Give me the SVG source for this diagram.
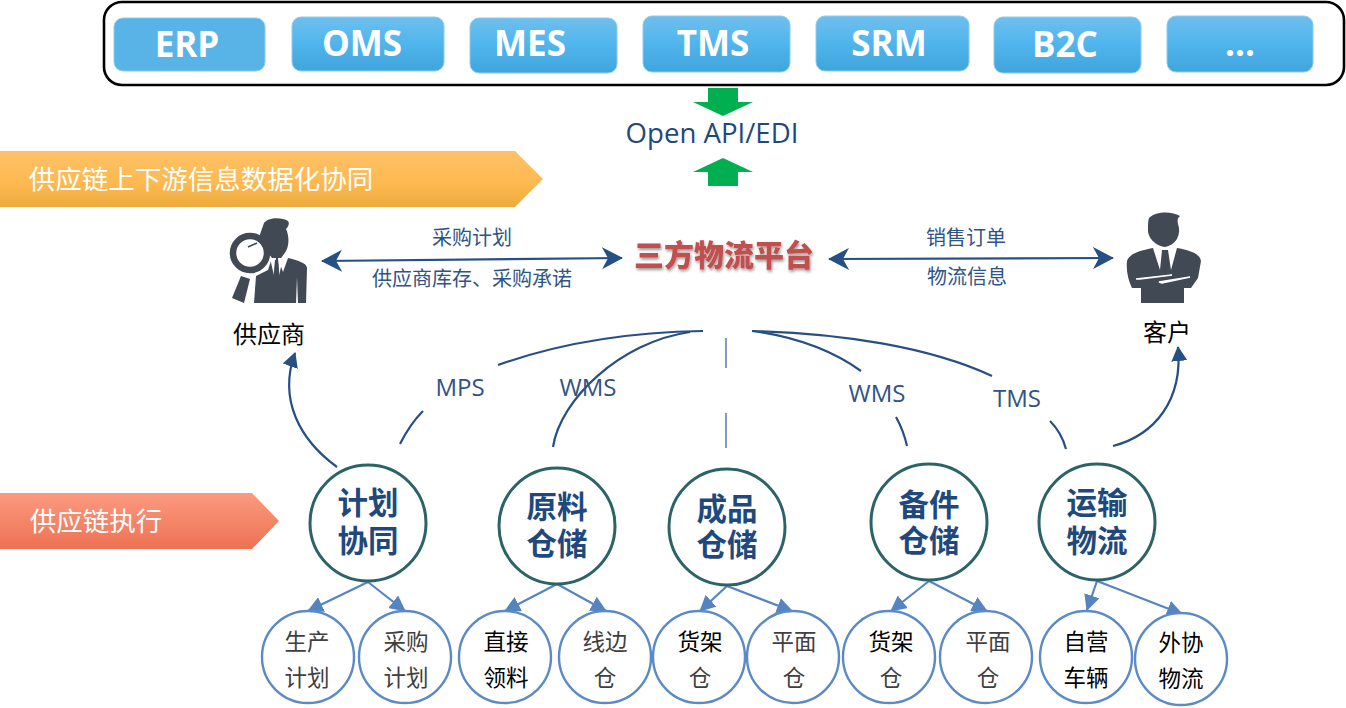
<svg xmlns="http://www.w3.org/2000/svg" width="1346" height="708" viewBox="0 0 1346 708">
<style>
text{font-family:"Noto Sans CJK SC","Noto Sans",sans-serif;text-anchor:middle}
.btn{fill:url(#blue);stroke:#8fcbee;stroke-width:1}
.bt{font-family:"Open Sans","Noto Sans",sans-serif;font-weight:700;font-size:35px;fill:#fff}
.lab{font-size:20px;fill:#2f5485}
.proto{font-family:"Open Sans","Noto Sans",sans-serif;font-size:24px;fill:#2f5485}
.who{font-size:24px;fill:#000}
.big{fill:#fff;stroke:#2b6368;stroke-width:3}
.bigt{font-size:30.5px;font-weight:700;fill:#1f497d}
.small{fill:#fff;stroke:#5b8ac6;stroke-width:2.4}
.st{font-size:22.5px;fill:#404040}
.k{fill:#000}
.c{fill:none;stroke:#264f83;stroke-width:2.2}
.d{fill:none;stroke:#5585c1;stroke-width:2.2}
.icon{fill:#414954}
</style>
<defs>
<linearGradient id="blue" x1="0" y1="0" x2="0" y2="1"><stop offset="0" stop-color="#6fbfec"/><stop offset=".45" stop-color="#52b6ee"/><stop offset="1" stop-color="#3fa5db"/></linearGradient>
<linearGradient id="yel" x1="0" y1="0" x2="0" y2="1"><stop offset="0" stop-color="#fdc168"/><stop offset=".6" stop-color="#fdb94f"/><stop offset="1" stop-color="#ecaa3c"/></linearGradient>
<linearGradient id="red" x1="0" y1="0" x2="0" y2="1"><stop offset="0" stop-color="#fb9a80"/><stop offset="1" stop-color="#ee7152"/></linearGradient>
<marker id="big" markerWidth="22" markerHeight="22" refX="20" refY="11" orient="auto-start-reverse" markerUnits="userSpaceOnUse"><path d="M0 0L21 11L0 22L6 11Z" fill="#264f83"/></marker>
<marker id="tri" markerWidth="16" markerHeight="16" refX="14" refY="8" orient="auto" markerUnits="userSpaceOnUse"><path d="M0 0L15 8L0 16Z" fill="#264f83"/></marker>
<marker id="lb" markerWidth="17" markerHeight="16" refX="15" refY="8" orient="auto" markerUnits="userSpaceOnUse"><path d="M0 0L16 8L0 16Z" fill="#5585c1"/></marker>
<filter id="sh" x="-20%" y="-40%" width="140%" height="180%"><feDropShadow dx="1" dy="2" stdDeviation="1.5" flood-color="#000" flood-opacity=".4"/></filter>
</defs>
<g id="systems">
<rect x="104" y="2" width="1240" height="83" rx="18" fill="#fff" stroke="#000" stroke-width="2.6"/>
<g id="erp"><rect class="btn" x="114" y="18" width="151" height="53" rx="9" style="fill:#58b4e6"/><text class="bt" x="187" y="57">ERP</text></g>
<g id="oms"><rect class="btn" x="292" y="17" width="152" height="54" rx="9"/><text class="bt" x="362" y="56">OMS</text></g>
<g id="mes"><rect class="btn" x="470" y="18" width="147" height="55" rx="9"/><text class="bt" x="530" y="56">MES</text></g>
<g id="tms"><rect class="btn" x="643" y="16" width="147" height="56" rx="9"/><text class="bt" x="713" y="56">TMS</text></g>
<g id="srm"><rect class="btn" x="816" y="16" width="153" height="55" rx="9"/><text class="bt" x="889" y="56">SRM</text></g>
<g id="b2c"><rect class="btn" x="994" y="17" width="147" height="56" rx="9"/><text class="bt" x="1065" y="57">B2C</text></g>
<g id="more"><rect class="btn" x="1167" y="16" width="146" height="56" rx="9"/><text class="bt" x="1240" y="56">...</text></g>
</g>
<g id="api">
<path d="M708 88H738V102H753L723 116L693 102H708Z" fill="#00b050"/>
<text class="proto" x="712" y="143" style="font-size:27.6px;fill:#1f497d">Open API/EDI</text>
<path d="M723 158L753 172H738V186H708V172H693Z" fill="#00b050"/>
</g>
<g id="banner-top"><path d="M0 151H515L543 179L515 207H0Z" fill="url(#yel)"/><text x="201" y="189" font-size="26.5" fill="#fff">供应链上下游信息数据化协同</text></g>
<g id="banner-exec"><path d="M0 493H252L279 521L252 549H0Z" fill="url(#red)"/><text x="96" y="531" font-size="26.5" fill="#fff">供应链执行</text></g>
<g id="supplier">
<path class="icon" d="M264 223C268 217 282 217 288 221C290 224 288 227 286 229C290 238 289 248 284 254L279 261L283 272L288 258C297 260 307 263 307 268L306 303H298L297 277L296 303H254L256 276L268 270L272 258L258 240Z"/>
<circle cx="250" cy="253" r="17" fill="#fff" stroke="#414954" stroke-width="6.5"/>
<path d="M248 247L257 243" stroke="#414954" stroke-width="1.5"/>
<path class="icon" d="M241 276L250 279L244 303L232 298Z"/>
<path d="M270 258L274 276L276 258ZM283 258L279 276L278 258Z" fill="#fff"/>
<path d="M273 281L275 260H278L280 281L277 287Z" fill="#414954"/>
<text class="who" x="269" y="343">供应商</text>
</g>
<g id="customer">
<path class="icon" d="M1149 218C1156 211 1172 211 1180 216C1176 219 1178 223 1179 228C1180 237 1175 245 1165 247C1156 246 1147 238 1148 228C1148 224 1148 221 1149 218Z"/>
<path class="icon" d="M1153 248L1160 270L1162 250H1168L1171 270L1177 248C1188 250 1200 253 1201 261L1198 278L1191 288H1184V303H1141V288H1132C1128 280 1126 270 1127 261C1130 252 1144 250 1153 248Z"/>
<path d="M1136 279L1172 275L1140 279ZM1159 282L1190 277L1162 283Z" fill="#fff" stroke="#fff" stroke-width="1.5"/>
<text class="who" x="1167" y="341">客户</text>
</g>
<g id="platform"><text x="724" y="266" font-size="30" font-weight="900" fill="#c0504d" filter="url(#sh)">三方物流平台</text></g>
<g id="connectors">
<path class="c" d="M322 261L622 258" marker-start="url(#big)" marker-end="url(#big)"/>
<path class="c" d="M829 259L1113 258" marker-start="url(#big)" marker-end="url(#big)"/>
<path class="c" d="M337 467C300 440 278 400 295 353" marker-end="url(#tri)"/>
<path class="c" d="M1113 446C1155 435 1183 400 1178 347" marker-end="url(#tri)"/>
<path class="c" d="M400 444C408 428 417 417 423 411M498 365C560 343 630 332 703 331"/>
<path class="c" d="M553 447C560 400 620 342 690 332"/>
<path class="c" d="M726 338V368M726 413V448" style="stroke:#5b7ea8;stroke-width:1.5"/>
<path class="c" d="M752 331C790 336 830 349 861 371M896 417C901 426 905 437 907 446"/>
<path class="c" d="M752 331C840 333 930 347 992 376M1050 421C1057 428 1063 438 1066 449"/>
<path class="d" d="M368 582L308 611" marker-end="url(#lb)"/>
<path class="d" d="M368 582L405 611" marker-end="url(#lb)"/>
<path class="d" d="M557 584L505 611" marker-end="url(#lb)"/>
<path class="d" d="M557 584L606 611" marker-end="url(#lb)"/>
<path class="d" d="M727 586L700 611" marker-end="url(#lb)"/>
<path class="d" d="M727 586L792 611" marker-end="url(#lb)"/>
<path class="d" d="M929 581L891 611" marker-end="url(#lb)"/>
<path class="d" d="M929 581L987 611" marker-end="url(#lb)"/>
<path class="d" d="M1097 581L1087 610" marker-end="url(#lb)"/>
<path class="d" d="M1097 581L1182 614" marker-end="url(#lb)"/>
</g>
<g id="link-labels">
<text class="lab" x="472" y="245">采购计划</text>
<text class="lab" x="472" y="286">供应商库存、采购承诺</text>
<text class="lab" x="966" y="245">销售订单</text>
<text class="lab" x="967" y="284">物流信息</text>
<text class="proto" x="460" y="396">MPS</text>
<text class="proto" x="588" y="396">WMS</text>
<text class="proto" x="877" y="402">WMS</text>
<text class="proto" x="1017" y="407">TMS</text>
</g>
<g id="n-plan"><circle class="big" cx="368" cy="523" r="58"/><text class="bigt"><tspan x="368" y="514">计划</tspan><tspan x="368" y="552">协同</tspan></text></g>
<g id="n-raw"><circle class="big" cx="557" cy="526" r="58"/><text class="bigt"><tspan x="557" y="518">原料</tspan><tspan x="557" y="555">仓储</tspan></text></g>
<g id="n-fin"><circle class="big" cx="727" cy="527" r="58"/><text class="bigt"><tspan x="727" y="520">成品</tspan><tspan x="727" y="556">仓储</tspan></text></g>
<g id="n-spare"><circle class="big" cx="929" cy="522" r="58"/><text class="bigt"><tspan x="929" y="516">备件</tspan><tspan x="929" y="552">仓储</tspan></text></g>
<g id="n-trans"><circle class="big" cx="1097" cy="522" r="58"/><text class="bigt"><tspan x="1097" y="514">运输</tspan><tspan x="1097" y="552">物流</tspan></text></g>
<g id="s1"><circle class="small" cx="308" cy="657" r="46"/><text class="st" x="307" y="650">生产</text><text class="st" x="307" y="686">计划</text></g>
<g id="s2"><circle class="small" cx="405" cy="657" r="46"/><text class="st" x="406" y="650">采购</text><text class="st" x="406" y="686">计划</text></g>
<g id="s3"><circle class="small" cx="505" cy="657" r="46"/><text class="st k" x="506" y="650">直接</text><text class="st k" x="506" y="686">领料</text></g>
<g id="s4"><circle class="small" cx="605" cy="657" r="46"/><text class="st" x="605" y="650">线边</text><text class="st" x="605" y="686">仓</text></g>
<g id="s5"><circle class="small" cx="699" cy="657" r="46"/><text class="st k" x="700" y="650">货架</text><text class="st" x="700" y="686">仓</text></g>
<g id="s6"><circle class="small" cx="793" cy="657" r="46"/><text class="st" x="794" y="650">平面</text><text class="st" x="794" y="686">仓</text></g>
<g id="s7"><circle class="small" cx="889" cy="657" r="46"/><text class="st k" x="891" y="650">货架</text><text class="st" x="891" y="686">仓</text></g>
<g id="s8"><circle class="small" cx="986" cy="657" r="46"/><text class="st" x="988" y="650">平面</text><text class="st" x="988" y="686">仓</text></g>
<g id="s9"><circle class="small" cx="1086" cy="657" r="46"/><text class="st k" x="1086" y="650">自营</text><text class="st k" x="1086" y="686">车辆</text></g>
<g id="s10"><circle class="small" cx="1181" cy="659" r="46"/><text class="st k" x="1181" y="651">外协</text><text class="st k" x="1181" y="687">物流</text></g>
</svg>
